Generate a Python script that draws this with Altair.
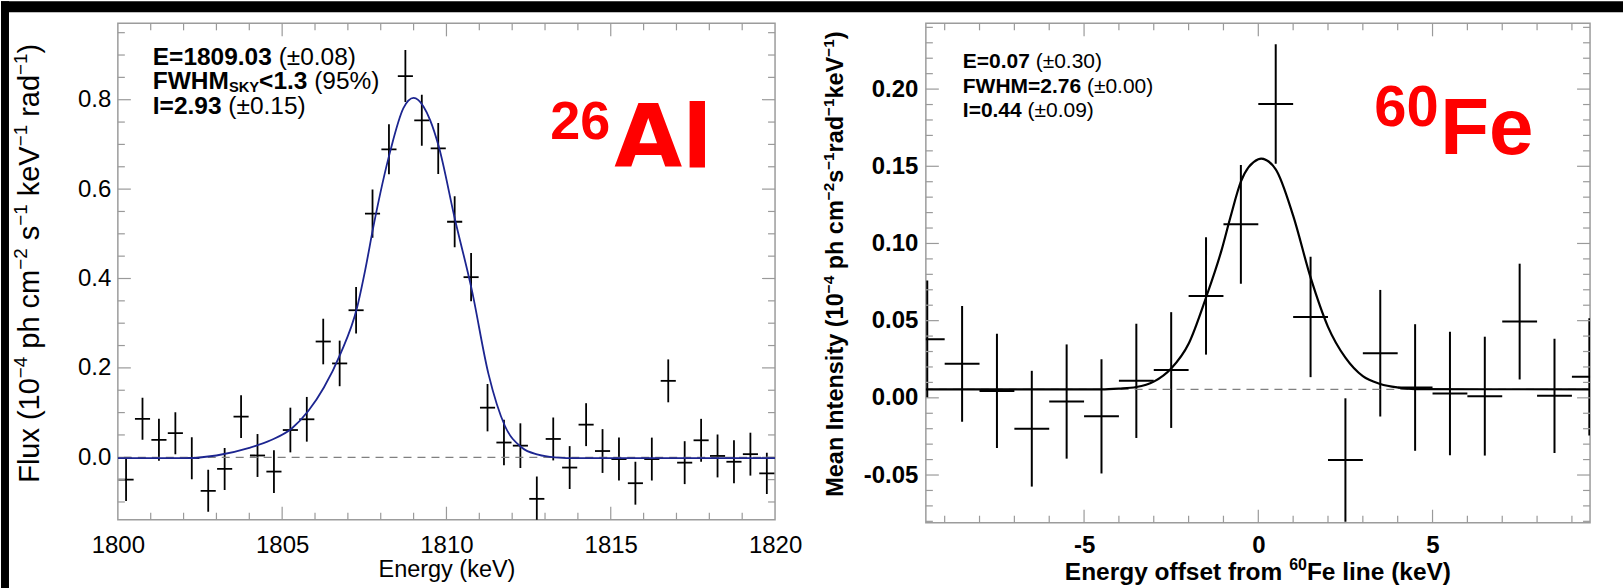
import altair as alt
import pandas as pd

FONT = "Liberation Sans, Arial, Helvetica, sans-serif"
WIDE = "DejaVu Sans, Liberation Sans, sans-serif"

# ---------------- 26Al panel data ----------------
al_energy = [1800.25, 1800.75, 1801.25, 1801.75, 1802.25, 1802.75, 1803.25, 1803.75,
             1804.25, 1804.75, 1805.25, 1805.75, 1806.25, 1806.75, 1807.25, 1807.75,
             1808.25, 1808.75, 1809.25, 1809.75, 1810.25, 1810.75, 1811.25, 1811.75,
             1812.25, 1812.75, 1813.25, 1813.75, 1814.25, 1814.75, 1815.25, 1815.75,
             1816.25, 1816.75, 1817.25, 1817.75, 1818.25, 1818.75, 1819.25, 1819.75]
al_flux = [-0.050, 0.086, 0.039, 0.054, -0.002, -0.075, -0.026, 0.091,
           0.004, -0.032, 0.061, 0.085, 0.259, 0.210, 0.329, 0.545,
           0.689, 0.853, 0.754, 0.691, 0.527, 0.403, 0.111, 0.033,
           0.026, -0.093, 0.041, -0.023, 0.073, 0.014, -0.004, -0.058,
           -0.004, 0.171, -0.012, 0.038, 0.003, -0.010, 0.007, -0.036]
al_err = [0.048, 0.047, 0.047, 0.047, 0.047, 0.047, 0.047, 0.048,
          0.048, 0.048, 0.050, 0.050, 0.051, 0.051, 0.052, 0.054,
          0.056, 0.058, 0.057, 0.057, 0.057, 0.054, 0.053, 0.051,
          0.050, 0.050, 0.048, 0.048, 0.048, 0.049, 0.048, 0.048,
          0.048, 0.048, 0.048, 0.048, 0.048, 0.048, 0.048, 0.046]
al_half_bin = 0.23
al_fit_energy = [1800.0, 1802.0, 1803.0, 1804.0, 1804.65, 1805.3, 1805.8, 1806.27, 1806.77,
                 1807.28, 1807.53, 1807.79, 1808.29, 1808.69, 1809.0, 1809.3, 1809.5,
                 1809.76, 1810.26, 1810.77, 1811.28, 1811.78, 1812.29, 1812.79, 1813.3,
                 1814.0, 1820.0]
al_fit_flux = [-0.002, -0.002, 0.004, 0.021, 0.038, 0.065, 0.104, 0.156, 0.231,
               0.335, 0.420, 0.521, 0.685, 0.781, 0.804, 0.785, 0.755,
               0.697, 0.532, 0.375, 0.186, 0.070, 0.022, 0.006, 0.000,
               -0.002, -0.002]
al_zero = 0.0
al_xdomain = [1800, 1820]
al_ydomain = [-0.1397, 0.9709]
al_xlabels = [1800, 1805, 1810, 1815, 1820]
al_ylabels = [0.0, 0.2, 0.4, 0.6, 0.8]
al_xmajor = [1805, 1810, 1815]
al_xminor = [1801, 1802, 1803, 1804, 1806, 1807, 1808, 1809, 1811, 1812, 1813, 1814,
             1816, 1817, 1818, 1819]
al_ymajor = [0.0, 0.2, 0.4, 0.6, 0.8]
al_yminor = [-0.10, -0.05, 0.05, 0.10, 0.15, 0.25, 0.30, 0.35, 0.45, 0.50, 0.55,
             0.65, 0.70, 0.75, 0.85, 0.90, 0.95]

# ---------------- 60Fe panel data ----------------
fe_offset = [-9.5, -8.5, -7.5, -6.5, -5.5, -4.5, -3.5, -2.5, -1.5, -0.5,
             0.5, 1.5, 2.5, 3.5, 4.5, 5.5, 6.5, 7.5, 8.5, 9.5]
fe_int = [0.038, 0.022, 0.0045, -0.020, -0.0024, -0.012, 0.011, 0.018, 0.066, 0.1124,
          0.1904, 0.0524, -0.0403, 0.0289, 0.0067, 0.0028, 0.0011, 0.0494, 0.0013, 0.0136]
fe_err = [0.038, 0.0375, 0.037, 0.0375, 0.037, 0.037, 0.037, 0.0375, 0.038, 0.0385,
          0.0387, 0.039, 0.040, 0.041, 0.041, 0.040, 0.0385, 0.0375, 0.037, 0.038]
fe_half_bin = 0.5
fe_fit_offset = [-9.54, -4.5, -4.0, -3.5, -3.0, -2.5, -2.0, -1.5, -1.05, -0.8, -0.5, 0.0,
                 0.08, 0.5, 1.0, 1.5, 2.0, 2.5, 3.0, 3.5, 4.0, 4.5, 9.52]
fe_fit_int = [0.0055, 0.0055, 0.006, 0.007, 0.0105, 0.019, 0.035, 0.065, 0.096, 0.117,
              0.140, 0.1545, 0.155, 0.148, 0.118, 0.078, 0.046, 0.026, 0.014, 0.009,
              0.0067, 0.0057, 0.0055]
fe_base = 0.0055
fe_xdomain = [-9.54, 9.52]
fe_ydomain = [-0.0809, 0.2426]
fe_xlabels = [-5, 0, 5]
fe_ylabels = [-0.05, 0.0, 0.05, 0.10, 0.15, 0.20]
fe_xmajor = [-5, 0, 5]
fe_xminor = [-9, -8, -7, -6, -4, -3, -2, -1, 1, 2, 3, 4, 6, 7, 8, 9]
fe_ymajor = [-0.05, 0.0, 0.05, 0.10, 0.15, 0.20]
fe_yminor = [-0.08, -0.07, -0.06, -0.04, -0.03, -0.02, -0.01, 0.01, 0.02, 0.03, 0.04,
             0.06, 0.07, 0.08, 0.09, 0.11, 0.12, 0.13, 0.14, 0.16, 0.17, 0.18, 0.19,
             0.21, 0.22, 0.23, 0.24]

# ---------------- text metrics (Arial / Liberation Sans, per 1000 em) ----------------
REG = dict(zip('abcdefghijklmnopqrstuvwxyz',
               [556, 556, 500, 556, 556, 278, 556, 556, 222, 222, 500, 222, 833,
                556, 556, 556, 556, 333, 500, 278, 556, 500, 722, 500, 500, 500]))
BOLD = dict(zip('abcdefghijklmnopqrstuvwxyz',
                [556, 611, 556, 611, 556, 333, 611, 611, 278, 278, 556, 278, 889,
                 611, 611, 611, 611, 389, 556, 333, 611, 556, 778, 556, 556, 500]))
COMMON = {' ': 278, '(': 333, ')': 333, '±': 584, '.': 278, '%': 889, '−': 584, '-': 333,
          '<': 584, '=': 584, 'E': 667, 'F': 611, 'I': 278, 'M': 833, 'V': 667, 'H': 722,
          'W': 944, 'S': 667, 'Y': 667}
for d in '0123456789':
    COMMON[d] = 556
REG.update(COMMON)
REG['K'] = 667
BOLD.update(COMMON)
BOLD['K'] = 722


def text_width(s, bold, size):
    table = BOLD if bold else REG
    return sum(table.get(c, 556) for c in s) / 1000.0 * size


one = pd.DataFrame({'k': [0]})


def text_layer(txt, x, y, size, bold=False, color='black', baseline='middle', font=FONT,
               angle=0):
    return alt.Chart(one).mark_text(
        text=txt, align='left', baseline=baseline, font=font, fontSize=size,
        fontWeight='bold' if bold else 'normal', color=color, angle=angle
    ).encode(x=alt.value(x), y=alt.value(y))


def rich_text(segs, x0, y, size, bold, vertical=False, sup_ratio=0.65, sup_shift=0.3):
    """segs: list of (text, is_sup). Horizontal: runs right from x0 at centre line y.
    Vertical: runs upward from y (start) at centre line x0."""
    layers = []
    cur = 0.0
    for txt, sup in segs:
        sz = size * sup_ratio if sup else size
        lead = len(txt) - len(txt.lstrip(' '))
        body = txt.strip(' ')
        off = cur + lead * 0.278 * sz
        shift = sup_shift * size if sup else 0.0
        if vertical:
            layers.append(text_layer(body, x0 - shift, y - off, sz, bold, angle=270))
        else:
            layers.append(text_layer(body, x0 + off, y - shift, sz, bold))
        cur += text_width(txt, bold, sz)
    return layers, cur


def annotation(lines, x0, size):
    layers = []
    for y, segs in lines:
        x = x0
        for seg in segs:
            txt, bold = seg[0], seg[1]
            sz = size * seg[2] if len(seg) > 2 else size
            dy = seg[3] if len(seg) > 3 else 0
            lead = len(txt) - len(txt.lstrip(' '))
            x += lead * 0.278 * sz
            body = txt.lstrip(' ')
            layers.append(text_layer(body, x, y + dy, sz, bold))
            x += text_width(body, bold, sz)
    return layers


def tick_layers(xs, ys, xaxis, yaxis, xmajor, xminor, ymajor, yminor, W, H, major=13,
                minor=7, color='#9a9a9a'):
    layers = []
    for vals, ln in ((ymajor, major), (yminor, minor)):
        df = pd.DataFrame({'v': vals})
        for x1, x2 in ((0, ln), (W, W - ln)):
            layers.append(alt.Chart(df).mark_rule(color=color, strokeWidth=1.2).encode(
                y=alt.Y('v:Q', scale=ys, axis=yaxis), x=alt.value(x1), x2=alt.value(x2)))
    for vals, ln in ((xmajor, major), (xminor, minor)):
        df = pd.DataFrame({'v': vals})
        for y1, y2 in ((H, H - ln), (0, ln)):
            layers.append(alt.Chart(df).mark_rule(color=color, strokeWidth=1.2).encode(
                x=alt.X('v:Q', scale=xs, axis=xaxis), y=alt.value(y1), y2=alt.value(y2)))
    return layers


def data_layers(xv, yv, ev, hw, xs, ys, xaxis, yaxis, width):
    df = pd.DataFrame({'x': xv, 'v': yv, 'e': ev})
    df['lo'] = df['v'] - df['e']
    df['hi'] = df['v'] + df['e']
    df['xlo'] = df['x'] - hw
    df['xhi'] = df['x'] + hw
    vert = alt.Chart(df).mark_rule(color='black', strokeWidth=width, clip=True).encode(
        x=alt.X('x:Q', scale=xs, axis=xaxis),
        y=alt.Y('lo:Q', scale=ys, axis=yaxis),
        y2='hi:Q')
    horiz = alt.Chart(df).mark_rule(color='black', strokeWidth=width, clip=True).encode(
        x=alt.X('xlo:Q', scale=xs, axis=xaxis), x2='xhi:Q',
        y=alt.Y('v:Q', scale=ys, axis=yaxis))
    return [vert, horiz]


# ---------------- Left panel: 26Al ----------------
LW, LH = 658, 497
al_xs = alt.Scale(domain=al_xdomain, nice=False, zero=False)
al_ys = alt.Scale(domain=al_ydomain, nice=False, zero=False)

al_xaxis = alt.Axis(values=al_xlabels, format='d', ticks=False, domain=False, grid=False,
                    labelFont=FONT, labelFontSize=24, labelColor='black', labelPadding=14,
                    labelFlush=False, labelOverlap=False,
                    title='Energy (keV)', titleFont=FONT, titleFontSize=23.5,
                    titleFontWeight='normal', titleColor='black',
                    titleX=LW / 2, titleY=50, titleAlign='center', titleBaseline='middle')
al_yaxis = alt.Axis(values=al_ylabels, format='.1f', ticks=False, domain=False, grid=False,
                    labelFont=FONT, labelFontSize=24, labelColor='black', labelPadding=7,
                    labelFlush=False, labelOverlap=False, title='')

al_fit = alt.Chart(pd.DataFrame({'x': al_fit_energy, 'f': al_fit_flux})).mark_line(
    color='#1c2590', strokeWidth=1.8, interpolate='monotone', clip=True).encode(
    x=alt.X('x:Q', scale=al_xs, axis=al_xaxis), y=alt.Y('f:Q', scale=al_ys, axis=al_yaxis))
al_dash = alt.Chart(one).mark_rule(color='#808080', strokeWidth=1.2,
                                   strokeDash=[8, 6]).encode(
    y=alt.datum(al_zero, scale=al_ys, axis=al_yaxis))

bands = [
    alt.Chart(one).mark_rect(color='black').encode(
        x=alt.value(-117), x2=alt.value(1624 - 117), y=alt.value(-22), y2=alt.value(-11)),
    alt.Chart(one).mark_rect(color='black').encode(
        x=alt.value(-117), x2=alt.value(-109), y=alt.value(-22), y2=alt.value(588 - 22)),
]

al_ytitle, _ = rich_text([('Flux (10', False), ('−4', True), (' ph cm', False), ('−2', True),
                          (' s', False), ('−1', True), (' keV', False), ('−1', True),
                          (' rad', False), ('−1', True), (')', False)],
                         -88, 460, 29, False, vertical=True)

al_text = annotation([
    (35, [('E=1809.03', True), (' (±0.08)', False)]),
    (59, [('FWHM', True), ('SKY', True, 0.6, 6), ('<1.3', True), (' (95%)', False)]),
    (84, [('I=2.93', True), (' (±0.15)', False)]),
], 35, 24.5)
al_label = [
    text_layer('26', 433, 116, 54, True, '#ff0000', 'alphabetic'),
    text_layer('Al', 497, 144, 88, True, '#ff0000', 'alphabetic', font=WIDE),
]

left = alt.layer(
    *data_layers(al_energy, al_flux, al_err, al_half_bin, al_xs, al_ys, al_xaxis, al_yaxis, 1.8),
    *bands,
    *tick_layers(al_xs, al_ys, al_xaxis, al_yaxis, al_xmajor, al_xminor, al_ymajor, al_yminor,
                 LW, LH),
    al_dash,
    al_fit,
    *al_ytitle,
    *al_text, *al_label,
).properties(width=LW, height=LH)

# ---------------- Right panel: 60Fe ----------------
RW, RH = 665, 500
fe_xs = alt.Scale(domain=fe_xdomain, nice=False, zero=False)
fe_ys = alt.Scale(domain=fe_ydomain, nice=False, zero=False)

fe_xaxis = alt.Axis(values=fe_xlabels, ticks=False, domain=False, grid=False,
                    labelExpr="(datum.value < 0 ? '-' : '') + format(abs(datum.value), 'd')",
                    labelFont=FONT, labelFontSize=24, labelFontWeight='bold',
                    labelColor='black', labelPadding=11, labelFlush=False, labelOverlap=False,
                    title='')
fe_yaxis = alt.Axis(values=fe_ylabels, ticks=False, domain=False, grid=False,
                    labelExpr="(datum.value < 0 ? '-' : '') + format(abs(datum.value), '.2f')",
                    labelFont=FONT, labelFontSize=24, labelFontWeight='bold',
                    labelColor='black', labelPadding=8, labelFlush=False, labelOverlap=False,
                    title='')

fe_fit = alt.Chart(pd.DataFrame({'x': fe_fit_offset, 'f': fe_fit_int})).mark_line(
    color='black', strokeWidth=2.2, interpolate='monotone', clip=True).encode(
    x=alt.X('x:Q', scale=fe_xs, axis=fe_xaxis), y=alt.Y('f:Q', scale=fe_ys, axis=fe_yaxis))
fe_dash = alt.Chart(one).mark_rule(color='#808080', strokeWidth=1.2,
                                   strokeDash=[8, 6]).encode(
    y=alt.datum(fe_base, scale=fe_ys, axis=fe_yaxis))

fe_ytitle, _ = rich_text([('Mean Intensity (10', False), ('−4', True), (' ph cm', False),
                          ('−2', True), ('s', False), ('−1', True), ('rad', False),
                          ('−1', True), ('keV', False), ('−1', True), (')', False)],
                         -90, 474, 23.5, True, vertical=True)

fe_xsegs = [('Energy offset from ', False), ('60', True), ('Fe line (keV)', False)]
_, fe_xw = rich_text(fe_xsegs, 0, 0, 24.5, True)
fe_xtitle, _ = rich_text(fe_xsegs, RW / 2 - fe_xw / 2, 550, 24.5, True)

fe_text = annotation([
    (39, [('E=0.07', True), (' (±0.30)', False)]),
    (64, [('FWHM=2.76', True), (' (±0.00)', False)]),
    (88, [('I=0.44', True), (' (±0.09)', False)]),
], 37, 21)
fe_label = [
    text_layer('60', 449, 103, 58, True, '#ff0000', 'alphabetic'),
    text_layer('Fe', 515, 131, 80, True, '#ff0000', 'alphabetic'),
]

right = alt.layer(
    *data_layers(fe_offset, fe_int, fe_err, fe_half_bin, fe_xs, fe_ys, fe_xaxis, fe_yaxis, 2.0),
    *tick_layers(fe_xs, fe_ys, fe_xaxis, fe_yaxis, fe_xmajor, fe_xminor, fe_ymajor, fe_yminor,
                 RW, RH),
    fe_dash,
    fe_fit,
    *fe_ytitle, *fe_xtitle,
    *fe_text, *fe_label,
).properties(width=RW, height=RH)

chart = alt.hconcat(left, right, spacing=151, bounds='flush', padding=0,
                    background='white').configure_view(stroke='#9c9c9c', strokeWidth=1.5)

chart.save("out.html", embed_options={"renderer": "svg", "actions": False})
